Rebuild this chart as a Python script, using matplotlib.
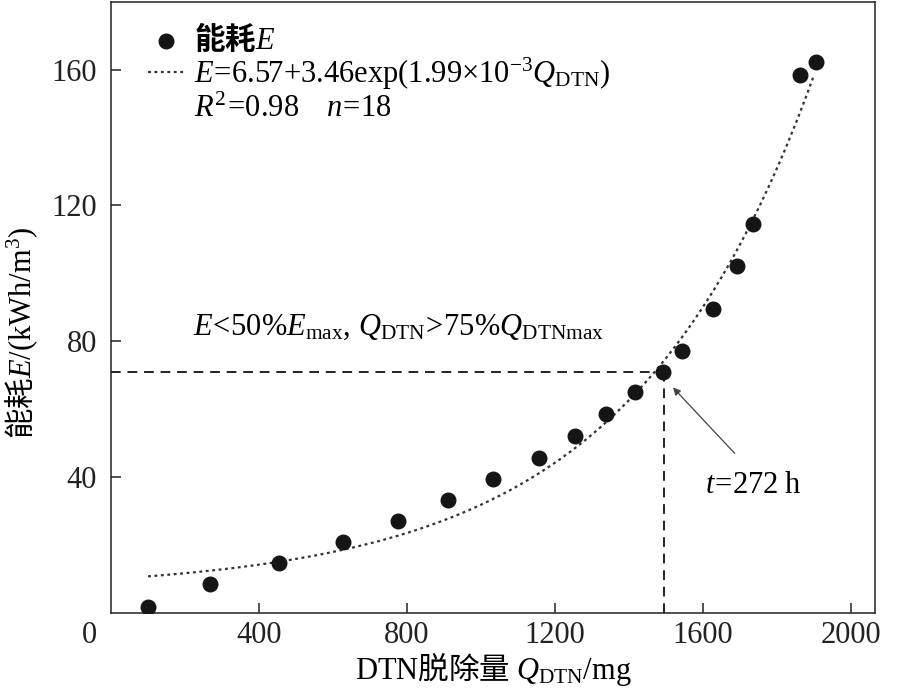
import numpy as np
import matplotlib
matplotlib.use("Agg")
import matplotlib.pyplot as plt
from matplotlib.lines import Line2D

plt.rcParams['font.family'] = ['Liberation Serif', 'Noto Sans CJK SC']
plt.rcParams['mathtext.fontset'] = 'custom'
plt.rcParams['mathtext.rm'] = 'Liberation Serif'
plt.rcParams['mathtext.it'] = 'Liberation Serif:italic'
plt.rcParams['mathtext.bf'] = 'Liberation Serif:bold'

# measured points: DTN removal (mg) vs energy consumption (kWh/m3)
q_dtn = [100, 268, 454, 627, 776, 911, 1032, 1157, 1254, 1338,
         1416, 1492, 1543, 1627, 1692, 1735, 1862, 1905]
energy = [1.9, 8.4, 14.8, 21.0, 27.1, 33.3, 39.5, 45.6, 52.1, 58.5,
          65.0, 71.0, 77.3, 89.6, 102.2, 114.6, 158.3, 162.4]

# fitted curve parameters from the legend
a, b, k = 6.57, 3.46, 1.99e-3
fit_range = (100, 1900)

x_ticks = [400, 800, 1200, 1600, 2000]
y_ticks = [40, 80, 120, 160]

q_mark, e_mark = 1495, 71   # marked point (t = 272 h)

fs = 22
fig = plt.figure(figsize=(9.1, 6.97), dpi=100)
ax = fig.add_axes([0.122, 0.1205, 0.8395, 0.877])

qq = np.linspace(fit_range[0], fit_range[1], 200)
fit_line, = ax.plot(qq, a + b * np.exp(k * qq), color='#333333', lw=1.6,
                    ls=(0, (1.3, 1.6)), zorder=2)
pts = ax.scatter(q_dtn, energy, s=110, color='#151515', zorder=3)

ax.plot([0, q_mark], [e_mark, e_mark], color='#222222', lw=1.4, ls=(0, (5, 3.5)), zorder=1)
ax.plot([q_mark, q_mark], [0, e_mark], color='#222222', lw=1.4, ls=(0, (5, 3.5)), zorder=1)

ax.annotate('', xy=(1519, 66.4), xytext=(1686, 47),
            arrowprops=dict(arrowstyle='-|>', color='#444444', lw=0.9,
                            mutation_scale=11, shrinkA=0, shrinkB=0))
ax.text(1735, 37.6, r'$t\!=\!272\ \mathrm{h}$', fontsize=fs, ha='center', va='center')
ax.text(222, 84, r'$E\!<\!50\%E_{\mathrm{max}},\,Q_{\mathrm{DTN}}\!>\!75\%Q_{\mathrm{DTNmax}}$',
        fontsize=fs, ha='left', va='center')

ax.set_xlim(0, 2065)
ax.set_ylim(0, 180)
ax.set_xticks(x_ticks)
ax.set_yticks(y_ticks)
ax.tick_params(direction='in', length=7, width=1.1, labelsize=fs, colors='#222222')
ax.tick_params(axis='y', pad=10)
ax.tick_params(axis='x', pad=6)
ax.text(-0.028, -0.013, '0', transform=ax.transAxes, fontsize=fs,
        ha='center', va='top', color='#222222')
for sp in ax.spines.values():
    sp.set_linewidth(1.1)
    sp.set_color('#222222')

ax.set_xlabel(r'$\mathrm{DTN}$脱除量 $Q_{\mathrm{DTN}}\mathrm{/mg}$', fontsize=fs,
              family=['Noto Sans CJK SC'], labelpad=0)
ax.set_ylabel(r'能耗$E\mathrm{/(kWh/m^3)}$', fontsize=fs,
              family=['Noto Sans CJK SC'])
ax.yaxis.set_label_coords(-0.093, 0.458)

blank = Line2D([], [], ls='none')
leg = ax.legend([pts, fit_line, blank],
                [r'能耗$E$',
                 r'$E\!=\!6.57{+}3.46\mathrm{exp}(1.99{\times}10^{-3}Q_{\mathrm{DTN}})$',
                 r'$R^2\!=\!0.98\quad\; n\!=\!18$'],
                loc='upper left', bbox_to_anchor=(0.048, 0.967), frameon=False,
                prop=dict(family='Noto Sans CJK SC', size=fs, weight='bold'),
                handlelength=1.2, handletextpad=0.3, labelspacing=0.0,
                borderaxespad=0, borderpad=0)

fig.savefig('out.png', dpi=100)
